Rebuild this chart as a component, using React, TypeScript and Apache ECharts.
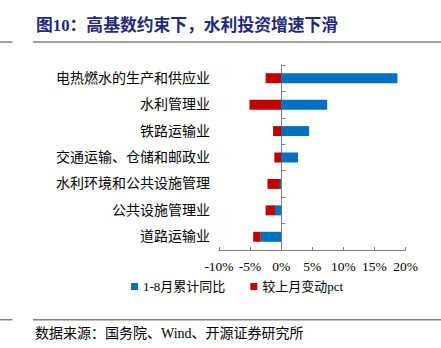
import React, { useEffect, useRef } from "react";
import * as echarts from "echarts";

const titleText = "图10：高基数约束下，水利投资增速下滑";
const sourceText = "数据来源：国务院、Wind、开源证券研究所";
const categories = [
  "电热燃水的生产和供应业",
  "水利管理业",
  "铁路运输业",
  "交通运输、仓储和邮政业",
  "水利环境和公共设施管理",
  "公共设施管理业",
  "道路运输业",
];
const seriesNames = ["1-8月累计同比", "较上月变动pct"];
const cumulativeYoY = [18.7, 7.4, 4.5, 2.7, -0.2, -1.0, -3.3];
const changeVsPrev = [-2.5, -5.1, -1.3, -1.1, -2.0, -1.5, -1.2];
const xMin = -10;
const xMax = 20;
const xInterval = 5;

const SERIF = "'Liberation Serif', 'Times New Roman', 'Noto Sans CJK SC', serif";

export default function App() {
  const ref = useRef<HTMLDivElement>(null);
  useEffect(() => {
    if (!ref.current) return;
    const chart = echarts.init(ref.current, null, { renderer: "svg" });
    const axisGray = "#7f7f7f";
    chart.setOption({
      animation: false,
      backgroundColor: "#ffffff",
      grid: { left: 219, right: 35.5, top: 65, bottom: 98, containLabel: false },
      legend: {
        left: 131,
        top: 280,
        padding: 0,
        itemWidth: 7,
        itemHeight: 7,
        itemGap: 25,
        icon: "rect",
        textStyle: { fontFamily: SERIF, fontSize: 13, color: "#000" },
        data: seriesNames,
      },
      xAxis: {
        type: "value",
        min: xMin,
        max: xMax,
        interval: xInterval,
        axisLine: { show: true, lineStyle: { color: axisGray, width: 1 } },
        axisTick: { show: true, inside: true, length: 3, lineStyle: { color: axisGray } },
        splitLine: { show: false },
        axisLabel: {
          formatter: "{value}%",
          fontFamily: SERIF,
          fontSize: 13.5,
          color: "#000",
          margin: 10,
        },
      },
      yAxis: [
        {
          type: "category",
          data: categories,
          inverse: true,
          position: "left",
          axisLine: { show: false, onZero: false },
          axisTick: { show: false },
          axisLabel: {
            fontFamily: SERIF,
            fontSize: 14,
            color: "#000",
            margin: 9,
          },
        },
        {
          type: "category",
          data: categories,
          inverse: true,
          position: "left",
          axisLine: { show: true, onZero: true, lineStyle: { color: axisGray, width: 1 } },
          axisTick: { show: true, inside: true, length: 4, lineStyle: { color: axisGray } },
          axisLabel: { show: false },
        },
      ],
      series: [
        {
          name: seriesNames[0],
          type: "bar",
          stack: "total",
          yAxisIndex: 0,
          barWidth: 10,
          itemStyle: { color: "#0070C0" },
          data: cumulativeYoY,
        },
        {
          name: seriesNames[1],
          type: "bar",
          stack: "total",
          yAxisIndex: 0,
          barWidth: 10,
          itemStyle: { color: "#C00000" },
          data: changeVsPrev,
        },
      ],
      graphic: [
        {
          type: "text",
          x: 36,
          y: 25,
          style: {
            text: titleText,
            font: "bold 16.8px " + SERIF,
            fill: "#1F2A7A",
            verticalAlign: "middle",
          },
        },
        { type: "line", shape: { x1: 0, y1: 42, x2: 12.5, y2: 42 }, style: { stroke: "#808080", lineWidth: 1.5 } },
        { type: "line", shape: { x1: 33, y1: 42, x2: 441, y2: 42 }, style: { stroke: "#808080", lineWidth: 1.5 } },
        { type: "line", shape: { x1: 0, y1: 319.7, x2: 12.5, y2: 319.7 }, style: { stroke: "#808080", lineWidth: 1.5 } },
        { type: "line", shape: { x1: 33, y1: 319.7, x2: 441, y2: 319.7 }, style: { stroke: "#808080", lineWidth: 1.5 } },
        {
          type: "text",
          x: 35,
          y: 333,
          style: {
            text: sourceText,
            font: "14px " + SERIF,
            fill: "#000",
            verticalAlign: "middle",
          },
        },
      ],
    });
    return () => chart.dispose();
  }, []);
  return (
    <div
      ref={ref}
      style={{ position: "fixed", left: 0, top: 0, width: 441, height: 348 }}
    />
  );
}
